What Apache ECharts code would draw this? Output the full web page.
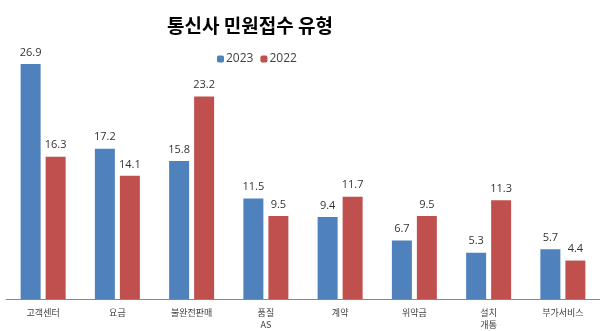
<!DOCTYPE html>
<html><head><meta charset="utf-8">
<script src="https://cdn.jsdelivr.net/npm/echarts@6/dist/echarts.min.js"></script>
<style>html,body{margin:0;padding:0;background:#fff}#c{width:600px;height:331px}</style>
</head><body><div id="c"></div>
<script>
const categories = ['고객센터','요금','불완전판매','품질\nAS','계약','위약금','설치\n개통','부가서비스'];
const values2023 = [26.9,17.2,15.8,11.5,9.4,6.7,5.3,5.7];
const values2022 = [16.3,14.1,23.2,9.5,11.7,9.5,11.3,4.4];
const chart = echarts.init(document.getElementById('c'));
const font = '"Noto Sans CJK KR", "Malgun Gothic", sans-serif';
const lbl = {show:true, position:'top', distance:6, color:'#333', fontSize:11, fontFamily:'"Open Sans", "Noto Sans", sans-serif'};
chart.setOption({
  animation:false,
  title:{text:'통신사 민원접수 유형', left:245, top:11, textAlign:'center',
    textStyle:{fontSize:19, fontWeight:'bold', color:'#000', fontFamily:font}},
  legend:{top:48, left:212, itemWidth:7, itemHeight:7, itemGap:7,
    textStyle:{fontSize:12, color:'#404040', fontFamily:'"Open Sans", sans-serif', padding:[0,0,0,-3]},
    data:['2023','2022']},
  grid:{left:6, right:-4, top:37, bottom:31, containLabel:false},
  xAxis:{type:'category', data:categories,
    axisLine:{lineStyle:{color:'#888', width:1}}, axisTick:{show:false},
    axisLabel:{color:'#404040', fontSize:9, margin:8, lineHeight:12, fontFamily:font, interval:0}},
  yAxis:{type:'value', min:0, max:30, show:false, splitLine:{show:false}},
  series:[
    {name:'2023', type:'bar', data:values2023, barWidth:20, barGap:'25%',
      itemStyle:{color:'#4F81BD'}, label:lbl},
    {name:'2022', type:'bar', data:values2022, barWidth:20,
      itemStyle:{color:'#C0504D'}, label:lbl}
  ]
});
</script></body></html>
